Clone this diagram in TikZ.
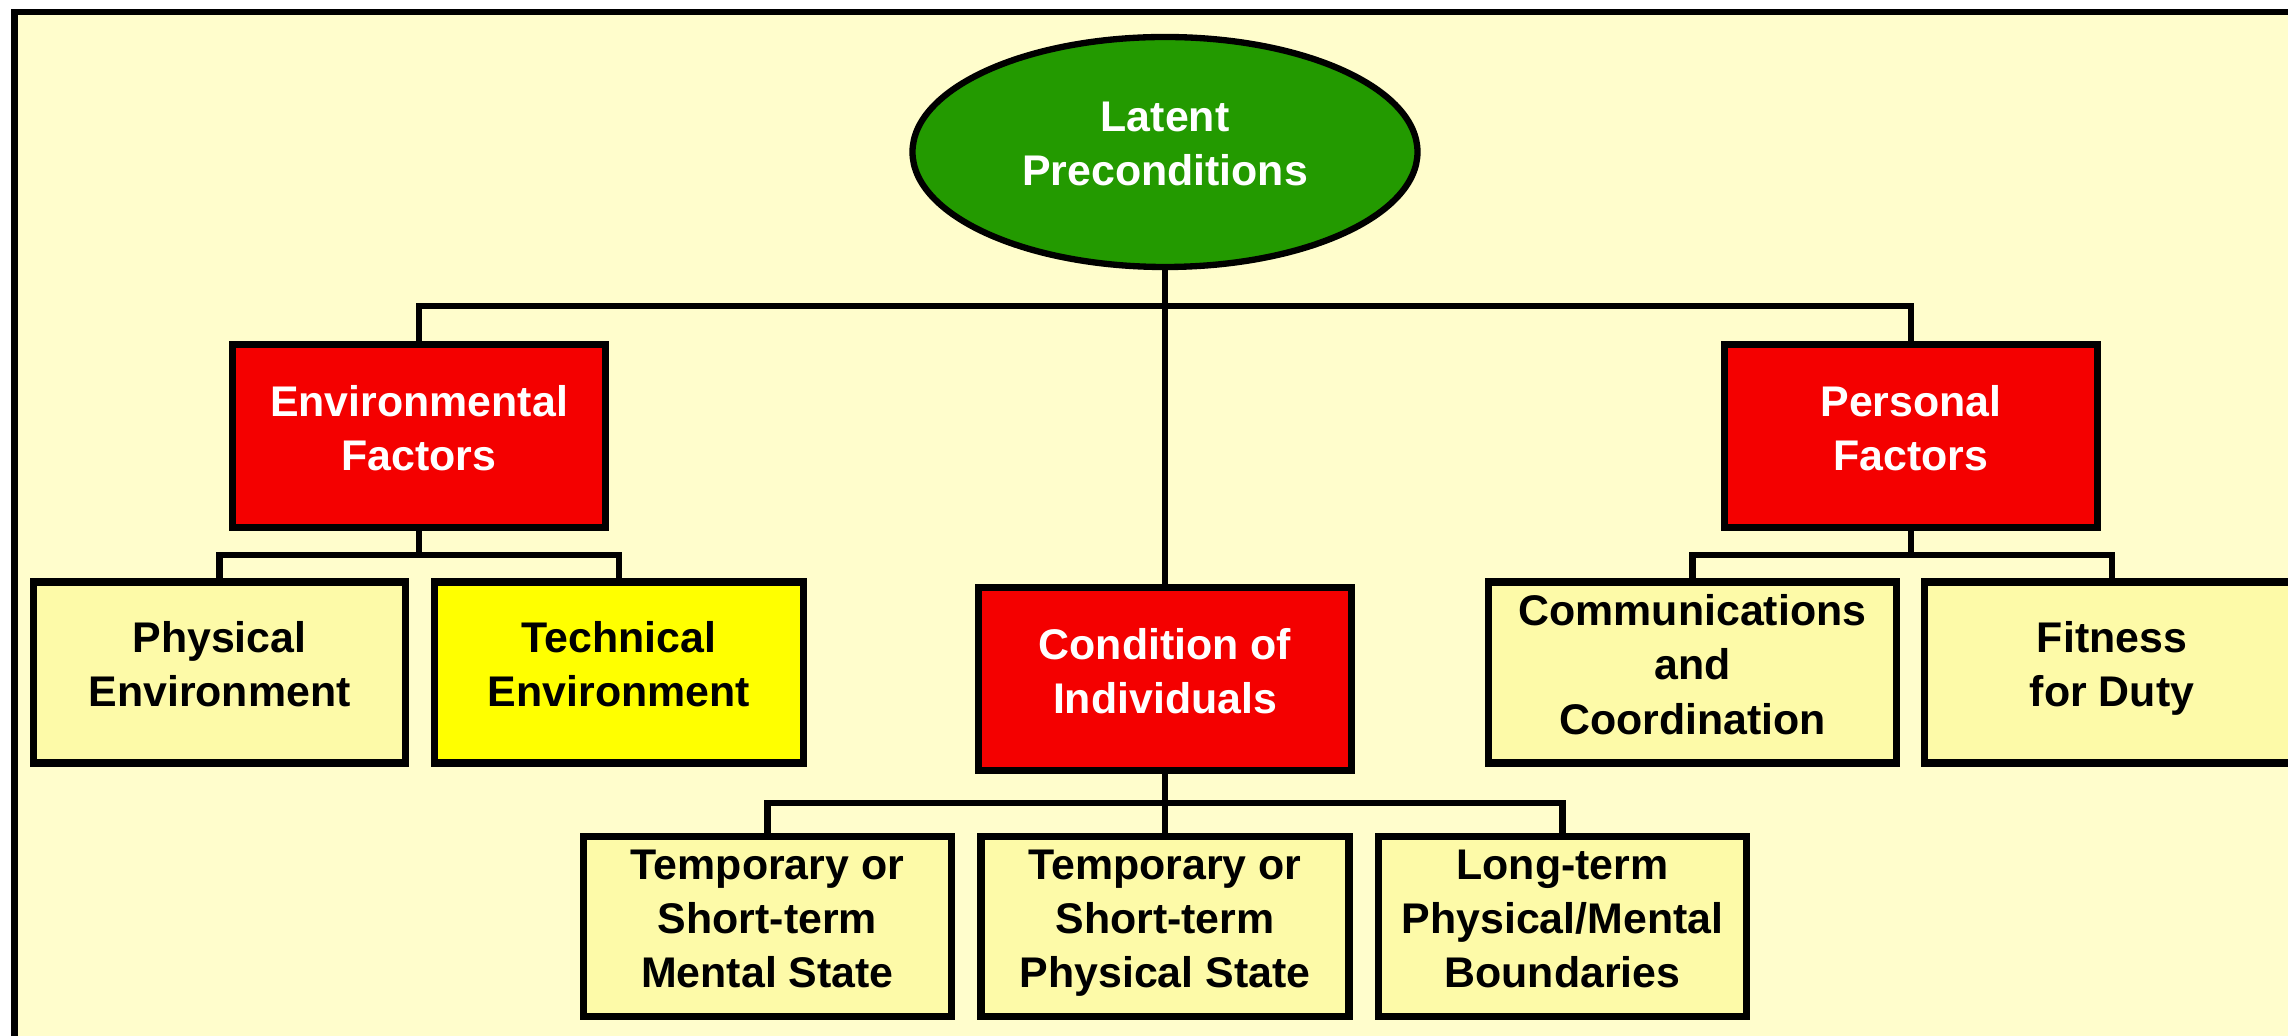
\documentclass[tikz,border=0pt]{standalone}
\usepackage{fontspec}
\setmainfont{Liberation Sans}
\usepackage{tikz}
\usetikzlibrary{shapes.geometric}

\definecolor{paper}{HTML}{FFFDCC}
\definecolor{boxfill}{HTML}{FDFAA8}
\definecolor{techfill}{HTML}{FFFF00}
\definecolor{factorred}{HTML}{F40000}
\definecolor{topgreen}{HTML}{239A00}

\begin{document}
\begin{tikzpicture}[x=1cm,y=1cm,font=\bfseries\fontsize{12.2}{15.4}\selectfont,
    link/.style={black,line width=1.8pt},
    boxtext/.style={align=center,inner sep=0pt,
        execute at begin node={\rule{0pt}{14.5pt}},execute at end node=\strut},
    redbox/.style={boxtext,draw=black,line width=2pt,fill=factorred,text=white,
        minimum width=3.73cm,minimum height=1.83cm},
    subbox/.style={boxtext,draw=black,line width=2pt,fill=boxfill,text=black,
        minimum height=1.81cm}]

\useasboundingbox (0,0) rectangle (22.88,10.36);
\clip (0,0) rectangle (22.88,10.36);

% ---------- frame ----------
\draw[line width=1.8pt,fill=paper] (0.145,-0.5) rectangle (23.5,10.24);

% ---------- top ----------
\node[ellipse,draw=black,line width=1.8pt,fill=topgreen,text=white,align=center,
    inner sep=0pt,minimum width=5.05cm,minimum height=2.30cm,
    execute at begin node=\strut,execute at end node=\strut]
    (latent) at (11.65,8.84) {Latent\\Preconditions};

% ---------- factors ----------
\node[redbox] (env)  at (4.19,6.00)  {Environmental\\Factors};
\node[redbox] (cond) at (11.65,3.57) {Condition of\\Individuals};
\node[redbox] (pers) at (19.11,6.00) {Personal\\Factors};

\coordinate (mainbus) at (11.65,7.30);
\draw[link] (latent.south) -- (cond.north);
\draw[link] (env.north) |- (mainbus) -| (pers.north);

% ---------- environmental ----------
\node[subbox,minimum width=3.72cm] (phys) at (2.195,3.635) {Physical\\Environment};
\node[subbox,minimum width=3.69cm,fill=techfill] (tech) at (6.19,3.635) {Technical\\Environment};

\coordinate (envbus) at (4.19,4.81);
\draw[link] (env.south) -- (envbus);
\draw[link] (phys.north) |- (envbus) -| (tech.north);

% ---------- personal ----------
\node[subbox,minimum width=4.08cm] (comm) at (16.925,3.635) {Communications\\and\\Coordination};
\node[subbox,minimum width=3.75cm] (fit)  at (21.12,3.635)  {Fitness\\for Duty};

\coordinate (persbus) at (19.11,4.81);
\draw[link] (pers.south) -- (persbus);
\draw[link] (comm.north) |- (persbus) -| (fit.north);

% ---------- condition ----------
\foreach \n/\xx/\t in {tmental/7.675/{Temporary or\\Short-term\\Mental State},
                       tphys/11.65/{Temporary or\\Short-term\\Physical State},
                       longterm/15.625/{Long-term\\Physical/Mental\\Boundaries}}{
    \node[subbox,minimum width=3.68cm,minimum height=1.80cm] (\n) at (\xx,1.095) {\t};
}

\coordinate (condbus) at (11.65,2.33);
\draw[link] (cond.south) -- (tphys.north);
\draw[link] (tmental.north) |- (condbus) -| (longterm.north);

\end{tikzpicture}
\end{document}
